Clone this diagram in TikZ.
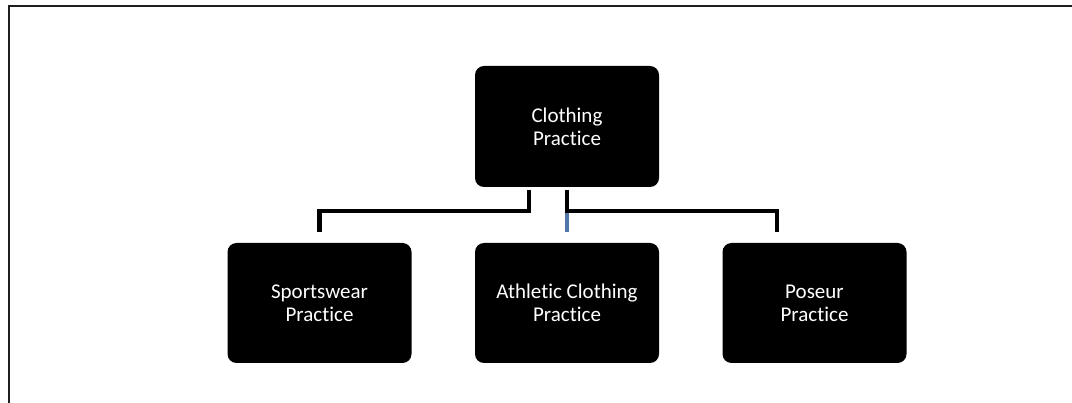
\documentclass[tikz,border=0pt]{standalone}
\usepackage{fontspec}
\setmainfont{Carlito}[Ligatures=NoCommon]
\begin{document}
\begin{tikzpicture}[x=1pt,y=-1pt,
  box/.style={draw=none,fill=black,rounded corners=9pt,minimum width=184pt,minimum height=120pt,
    text=white,align=center,font=\fontsize{21}{23}\selectfont,inner sep=0pt},
  conn/.style={line width=4.5pt,black},
  blueconn/.style={line width=4.5pt,color={rgb,255:red,79;green,119;blue,170}},
  frame/.style={line width=2pt,color={rgb,255:red,30;green,30;blue,30}}]
\useasboundingbox (0,0) rectangle (1072,403);
\fill[white] (0,0) rectangle (1072,403);
\coordinate (fa) at (8.5,403);
\coordinate (fb) at (8.5,6.5);
\coordinate (fc) at (1072,6.5);
\draw[frame] (fa) -- (fb) -- (fc);
\node[box,minimum height=121pt] (top) at (567,126.5) {Clothing\\Practice};
\node[box] (sw) at (319.5,303) {Sportswear\\Practice};
\node[box] (ath) at (567,303) {Athletic Clothing\\Practice};
\node[box] (pos) at (814.5,303) {Poseur\\Practice};
\draw[blueconn] ([yshift=11pt]ath.north) -- ++(0,-21);
\draw[conn] ([shift={(-38pt,-3pt)}]top.south) -- ++(0,21) -| ([yshift=11pt]sw.north);
\draw[conn] ([shift={(0pt,-3pt)}]top.south) -- ++(0,21) -| ([shift={(-37.5pt,11pt)}]pos.north);
\end{tikzpicture}
\end{document}
